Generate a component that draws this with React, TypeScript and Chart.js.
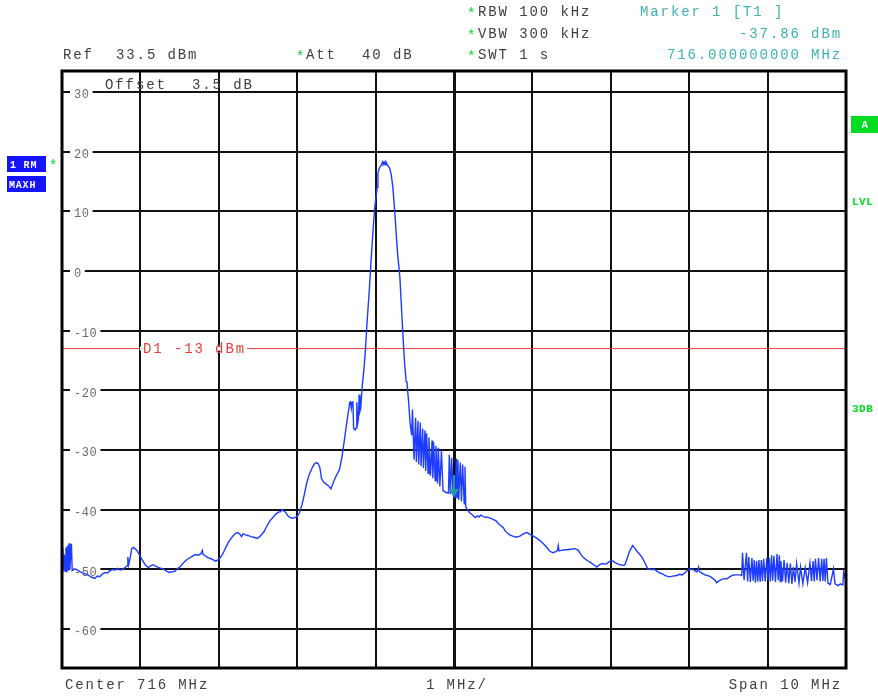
import React, { useEffect, useRef } from "react";
import { Chart, registerables } from "chart.js";
Chart.register(...registerables);

// ---- data ----
const traceMHz = [
  711.00, 711.01, 711.02, 711.03, 711.04, 711.05, 711.06, 711.07, 711.08, 711.09, 711.10, 711.12, 711.13, 711.16,
  711.20, 711.25, 711.29, 711.34, 711.38, 711.42, 711.45, 711.48, 711.52, 711.55, 711.58, 711.61, 711.65, 711.68,
  711.71, 711.74, 711.77, 711.80, 711.83, 711.84, 711.85, 711.87, 711.89, 711.91, 711.93, 711.96, 711.99,
  712.02, 712.06, 712.10, 712.13, 712.16, 712.19, 712.22, 712.26, 712.29, 712.34, 712.37, 712.40, 712.44, 712.47,
  712.51, 712.54, 712.58, 712.61, 712.65, 712.70, 712.74, 712.77, 712.79, 712.80, 712.83, 712.86, 712.90, 712.93,
  712.96, 712.99, 713.02, 713.05, 713.09, 713.12, 713.15, 713.18, 713.22, 713.24, 713.27, 713.29, 713.31, 713.34,
  713.37, 713.41, 713.45, 713.49, 713.52, 713.55, 713.58, 713.61, 713.65, 713.69, 713.72, 713.76, 713.79, 713.81,
  713.83, 713.85, 713.88, 713.91, 713.94, 713.97, 714.00, 714.03, 714.06, 714.09, 714.12, 714.15, 714.19, 714.22,
  714.25, 714.27, 714.29, 714.31, 714.34, 714.37, 714.40, 714.43, 714.45, 714.48, 714.51, 714.54, 714.57, 714.60,
  714.63, 714.65, 714.67, 714.68, 714.69, 714.70, 714.71, 714.72, 714.74, 714.75, 714.76, 714.77, 714.78, 714.79,
  714.80, 714.81, 714.83, 714.85, 714.87, 714.89, 714.92, 714.94, 714.97, 714.99, 715.02, 715.03, 715.05, 715.07,
  715.08, 715.09, 715.10, 715.11, 715.12, 715.13, 715.14, 715.15, 715.16, 715.18, 715.20, 715.22, 715.24, 715.26,
  715.28, 715.31, 715.33, 715.35, 715.37, 715.39, 715.40, 715.42, 715.44, 715.46, 715.47, 715.49, 715.51, 715.52,
  715.54, 715.55, 715.57, 715.58, 715.60, 715.61, 715.63, 715.64, 715.65, 715.67, 715.68, 715.70, 715.72, 715.73,
  715.74, 715.76, 715.77, 715.79, 715.80, 715.82, 715.84, 715.86, 715.90, 715.93, 715.94, 715.955, 715.97, 715.99,
  716.00, 716.02, 716.03, 716.04, 716.05, 716.06, 716.08, 716.095, 716.11, 716.13, 716.14, 716.15, 716.17, 716.20,
  716.24, 716.27, 716.30, 716.32, 716.34, 716.36, 716.40, 716.42, 716.46, 716.50, 716.54, 716.56, 716.60, 716.63,
  716.65, 716.68, 716.71, 716.75, 716.79, 716.84, 716.89, 716.93, 716.97, 717.01, 717.06, 717.10, 717.15, 717.19,
  717.22, 717.26, 717.30, 717.32, 717.33, 717.34, 717.37, 717.40, 717.44, 717.49, 717.54, 717.58, 717.62, 717.65,
  717.70, 717.74, 717.79, 717.82, 717.86, 717.89, 717.93, 717.95, 718.00, 718.03, 718.05, 718.09, 718.12, 718.16,
  718.18, 718.22, 718.24, 718.28, 718.31, 718.33, 718.37, 718.40, 718.44, 718.47, 718.51, 718.56, 718.60, 718.63,
  718.67, 718.69, 718.73, 718.76, 718.79, 718.84, 718.88, 718.91, 718.95, 718.97, 719.01, 719.05, 719.07, 719.10,
  719.12, 719.13, 719.16, 719.20, 719.23, 719.27, 719.29, 719.33, 719.35, 719.38, 719.42, 719.46, 719.48, 719.52,
  719.55, 719.58, 719.61, 719.65, 719.67,
  719.68, 719.70, 719.73, 719.745, 719.76, 719.78, 719.80, 719.815, 719.83, 719.845, 719.86, 719.875, 719.89, 719.905,
  719.92, 719.935, 719.95, 719.97, 719.99, 720.005, 720.02, 720.035, 720.05, 720.065, 720.08, 720.10, 720.12, 720.135,
  720.15, 720.16, 720.17, 720.19, 720.21, 720.23, 720.25, 720.27, 720.29, 720.31, 720.33, 720.35, 720.37, 720.40,
  720.42, 720.45, 720.48, 720.51, 720.54, 720.56, 720.58, 720.595, 720.61, 720.63, 720.65, 720.67, 720.69, 720.705,
  720.72, 720.735, 720.75, 720.77, 720.80, 720.84, 720.86, 720.90, 720.93, 720.96, 720.97, 721.00,
];
const traceDbm = [
  -50.3, -46.5, -50.2, -47.5, -50.3, -46.3, -50.5, -46.0, -50.2, -45.6, -50.0, -45.7, -50.2, -49.9,
  -50.1, -50.5, -50.7, -51.0, -51.3, -51.5, -51.1, -51.2, -50.7, -50.5, -50.6, -50.2, -50.0, -50.1,
  -49.8, -50.1, -50.0, -49.7, -49.4, -47.9, -49.2, -48.0, -46.5, -46.3, -46.5, -46.9, -47.6,
  -48.3, -49.2, -49.7, -49.4, -49.2, -49.4, -49.6, -49.8, -49.9, -50.3, -50.5, -50.4, -50.3, -49.9,
  -49.5, -49.0, -48.5, -48.2, -47.9, -47.5, -47.6, -47.4, -46.8, -47.5, -47.7, -48.0, -48.2, -48.4,
  -48.6, -48.4, -48.0, -47.4, -46.3, -45.5, -44.9, -44.4, -43.9, -43.8, -44.1, -44.5, -44.0, -44.2,
  -44.3, -44.5, -44.6, -44.8, -44.5, -44.1, -43.6, -42.8, -41.9, -41.3, -40.8, -40.4, -40.3, -40.0,
  -40.2, -40.4, -41.0, -41.3, -41.4, -41.3, -41.1, -40.5, -39.2, -37.5, -35.6, -34.2, -33.0, -32.3,
  -32.1, -32.3, -33.0, -34.8, -35.4, -35.7, -36.0, -36.5, -35.8, -34.8, -34.0, -33.2, -31.2, -28.5,
  -25.6, -23.8, -22.0, -21.9, -23.0, -22.0, -21.8, -26.4, -26.6, -26.3, -22.0, -25.6, -25.0, -20.7,
  -23.5, -23.0, -19.2, -16.7, -13.3, -8.8, -3.2, 1.3, 7.3, 10.7, 14.0, 16.4, 17.3, 17.7,
  18.0, 18.3, 17.9, 18.2, 17.8, 18.3, 18.1, 17.7, 17.6, 17.2, 16.1, 14.0, 10.7, 6.8,
  3.0, -1.1, -6.1, -11.1, -15.5, -18.5, -18.7, -21.7, -25.5, -27.5, -23.2, -31.6, -24.6, -32.0,
  -25.1, -32.4, -25.4, -32.7, -26.4, -33.0, -26.7, -33.5, -27.2, -33.9, -27.9, -34.3, -28.4, -34.7,
  -28.7, -35.1, -29.3, -35.6, -29.6, -36.1, -30.1, -36.8, -37.1, -37.2, -30.8, -37.4, -31.3, -37.6,
  -37.86, -37.9, -31.4, -38.0, -31.6, -38.3, -32.1, -38.6, -32.4, -39.0, -32.8, -39.5, -40.0, -40.5,
  -40.9, -41.3, -41.0, -41.2, -40.9, -41.0, -41.3, -41.2, -41.4, -41.6, -41.9, -42.2, -42.7, -43.0,
  -43.5, -43.9, -44.2, -44.4, -44.6, -44.4, -44.0, -43.8, -44.1, -44.4, -44.8, -45.2, -45.8, -46.4,
  -46.9, -47.2, -47.0, -46.8, -46.0, -46.9, -46.8, -46.7, -46.7, -46.6, -46.5, -46.7, -47.5, -48.0,
  -48.5, -48.8, -49.3, -49.6, -49.2, -49.0, -49.1, -49.0, -48.5, -48.6, -48.8, -49.1, -49.2, -49.3,
  -49.2, -47.7, -46.9, -46.0, -46.5, -46.9, -47.5, -48.0, -49.0, -49.9, -50.0, -50.0, -50.4, -50.6,
  -50.8, -51.0, -51.2, -51.2, -51.1, -51.0, -50.8, -50.9, -50.5, -50.2, -49.9, -50.0, -50.2, -50.4,
  -49.6, -50.3, -50.6, -50.9, -51.0, -51.2, -51.4, -51.8, -52.2, -51.9, -51.6, -51.5, -51.6, -51.2,
  -51.0, -50.9, -50.9, -50.9, -51.0,
  -47.2, -51.8, -47.2, -52.0, -47.9, -52.1, -48.1, -51.9, -48.4, -52.2, -48.6, -52.0, -48.4, -52.1,
  -48.4, -51.9, -48.2, -52.0, -48.1, -51.8, -48.1, -52.0, -47.6, -51.9, -47.7, -52.1, -47.4, -51.8,
  -47.6, -52.0, -48.6, -52.0, -48.4, -52.2, -48.9, -52.3, -49.0, -52.4, -49.6, -52.1, -49.0, -52.3,
  -49.6, -52.4, -49.7, -52.2, -48.9, -51.9, -48.6, -52.0, -48.2, -51.8, -48.1, -52.0, -48.2, -51.9,
  -48.2, -52.0, -48.1, -52.3, -52.5, -49.9, -52.4, -52.7, -52.4, -52.6, -50.4, -51.9,
];

const xGridMHz = [711, 712, 713, 714, 715, 716, 717, 718, 719, 720, 721];
const yTickValues = [30, 20, 10, 0, -10, -20, -30, -40, -50, -60];
const yTickLabels = ["30", "20", "10", "0", "-10", "-20", "-30", "-40", "-50", "-60"];
const refLevel = 33.5;
const bottomLevel = -66.5;
const startMHz = 711;
const stopMHz = 721;
const centerMHz = 716;
const limitLevel = -13;
const limitLabel = "D1 -13 dBm";
const markerMHz = 716;
const markerDbm = -37.86;
const settingLabels = ["RBW 100 kHz", "VBW 300 kHz", "SWT 1 s"];
const markerLabels = ["Marker 1 [T1 ]", "-37.86 dBm", "716.000000000 MHz"];
const refLabel = ["Ref", "33.5 dBm"];
const attLabel = ["Att", "40 dB"];
const offsetLabel = ["Offset", "3.5 dB"];
const footerLabels = ["Center 716 MHz", "1 MHz/", "Span 10 MHz"];
const traceLabels = ["1 RM", "MAXH"];
const sideLabels = ["A", "LVL", "3DB"];

const FONT = '14px "Liberation Mono", "DejaVu Sans Mono", monospace';
const TEXT = "#404040";
const TEAL = "#3fb1b1";
const GREEN = "#00dd22";
const RED = "#e63c3c";

function setSpacing(ctx: any, px: number) {
  try { ctx.letterSpacing = px + "px"; } catch (e) {}
}

const overlayPlugin = {
  id: "overlay",
  beforeDatasetsDraw(chart: any) {
    const { ctx, chartArea, scales } = chart;
    const y = scales.y;
    ctx.save();
    // y tick labels with white background
    ctx.font = '12px "Liberation Mono", monospace';
    setSpacing(ctx, 0.6);
    ctx.textBaseline = "middle";
    yTickValues.forEach((v, i) => {
      const py = y.getPixelForValue(v);
      const label = yTickLabels[i];
      const w = ctx.measureText(label).width;
      ctx.fillStyle = "#fff";
      ctx.fillRect(chartArea.left + 8, py - 2, w + 7, 4);
      ctx.fillStyle = "#6a6a6a";
      ctx.fillText(label, chartArea.left + 12, py + 3);
    });
    // offset text
    ctx.font = FONT;
    setSpacing(ctx, 1.9);
    ctx.fillStyle = TEXT;
    ctx.fillText(offsetLabel[0], 105, 85);
    ctx.fillText(offsetLabel[1], 192, 85);
    ctx.restore();
  },
  afterDatasetsDraw(chart: any) {
    const { ctx, chartArea, scales } = chart;
    const x = scales.x;
    const y = scales.y;
    ctx.save();
    // limit line label
    const ly = y.getPixelForValue(limitLevel);
    ctx.font = FONT;
    setSpacing(ctx, 1.9);
    const lw = ctx.measureText(limitLabel).width;
    ctx.fillStyle = "#fff";
    ctx.fillRect(140, ly - 2, lw + 4, 4);
    ctx.fillStyle = RED;
    ctx.textBaseline = "middle";
    ctx.fillText(limitLabel, 143, ly + 1);
    // marker
    const mx = x.getPixelForValue(markerMHz);
    const my = y.getPixelForValue(markerDbm);
    ctx.fillStyle = "#1c9c9c";
    ctx.strokeStyle = "#1c9c9c";
    ctx.beginPath();
    ctx.moveTo(mx, my);
    ctx.lineTo(mx - 5, my - 8);
    ctx.lineTo(mx + 5, my - 8);
    ctx.closePath();
    ctx.fill();
    ctx.lineWidth = 2;
    ctx.beginPath();
    ctx.moveTo(mx, my - 8);
    ctx.lineTo(mx, my - 22);
    ctx.stroke();
    // frame
    ctx.strokeStyle = "#000";
    ctx.lineWidth = 3;
    ctx.strokeRect(chartArea.left, chartArea.top, chartArea.right - chartArea.left, chartArea.bottom - chartArea.top);
    ctx.restore();
  },
  afterDraw(chart: any) {
    const { ctx } = chart;
    ctx.save();
    ctx.font = FONT;
    setSpacing(ctx, 1.9);
    ctx.textBaseline = "middle";
    const rows = [12, 34, 55];
    // settings
    settingLabels.forEach((t, i) => {
      ctx.fillStyle = GREEN;
      ctx.fillText("*", 467, rows[i] + 2);
      ctx.fillStyle = TEXT;
      ctx.fillText(t, 478, rows[i]);
    });
    // marker info
    ctx.fillStyle = TEAL;
    ctx.textAlign = "left";
    ctx.fillText(markerLabels[0], 640, rows[0]);
    ctx.textAlign = "right";
    ctx.fillText(markerLabels[1], 842, rows[1]);
    ctx.fillText(markerLabels[2], 842, rows[2]);
    ctx.textAlign = "left";
    // ref / att
    ctx.fillStyle = TEXT;
    ctx.fillText(refLabel[0], 63, rows[2]);
    ctx.fillText(refLabel[1], 116, rows[2]);
    ctx.fillStyle = GREEN;
    ctx.fillText("*", 296, rows[2] + 2);
    ctx.fillStyle = TEXT;
    ctx.fillText(attLabel[0], 306, rows[2]);
    ctx.fillText(attLabel[1], 362, rows[2]);
    // footer
    ctx.fillText(footerLabels[0], 65, 685);
    ctx.fillText(footerLabels[1], 426, 685);
    ctx.textAlign = "right";
    ctx.fillText(footerLabels[2], 842, 685);
    ctx.textAlign = "left";
    // trace boxes on left
    ctx.fillStyle = "#1414ff";
    ctx.fillRect(7, 156, 39, 16);
    ctx.fillRect(7, 176, 39, 16);
    ctx.font = 'bold 10px "Liberation Mono", monospace';
    setSpacing(ctx, 0.8);
    ctx.fillStyle = "#fff";
    ctx.fillText(traceLabels[0], 10, 165);
    ctx.fillText(traceLabels[1], 9, 185);
    ctx.font = FONT;
    setSpacing(ctx, 0);
    ctx.fillStyle = GREEN;
    ctx.fillText("*", 49, 166);
    // right side
    ctx.fillStyle = GREEN;
    ctx.fillRect(851, 116, 27, 17);
    ctx.font = 'bold 11px "Liberation Mono", monospace';
    setSpacing(ctx, 0.5);
    ctx.fillStyle = "#fff";
    ctx.textAlign = "center";
    ctx.fillText(sideLabels[0], 865, 125);
    ctx.textAlign = "left";
    ctx.fillStyle = GREEN;
    ctx.fillText(sideLabels[1], 852, 202);
    ctx.fillText(sideLabels[2], 852, 409);
    ctx.restore();
  },
};

export default function App() {
  const ref = useRef<HTMLCanvasElement | null>(null);
  useEffect(() => {
    document.body.style.margin = "0";
    const canvas = ref.current;
    if (!canvas) return;
    const chart = new Chart(canvas, {
      type: "line",
      data: {
        datasets: [
          {
            data: traceMHz.map((f, i) => ({ x: f, y: traceDbm[i] })),
            borderColor: "#1e3cff",
            borderWidth: 1.4,
            pointRadius: 0,
            tension: 0,
            fill: false,
          },
          {
            data: [
              { x: startMHz, y: limitLevel },
              { x: stopMHz, y: limitLevel },
            ],
            borderColor: RED,
            borderWidth: 1,
            pointRadius: 0,
            fill: false,
          },
        ],
      },
      options: {
        animation: false,
        responsive: false,
        devicePixelRatio: 1,
        events: [],
        layout: { padding: { left: 62, top: 71, right: 32, bottom: 29 } },
        plugins: { legend: { display: false }, tooltip: { enabled: false } },
        scales: {
          x: {
            type: "linear",
            min: startMHz,
            max: stopMHz,
            afterBuildTicks: (s: any) => {
              s.ticks = xGridMHz.map((v) => ({ value: v }));
            },
            ticks: { display: false },
            grid: {
              color: "#111",
              lineWidth: (c: any) => (c.tick && c.tick.value === centerMHz ? 3 : 2),
              drawTicks: false,
            },
            border: { display: false },
          },
          y: {
            type: "linear",
            min: bottomLevel,
            max: refLevel,
            afterBuildTicks: (s: any) => {
              s.ticks = yTickValues.map((v) => ({ value: v }));
            },
            ticks: { display: false },
            grid: { color: "#111", lineWidth: 2, drawTicks: false },
            border: { display: false },
          },
        },
      },
      plugins: [overlayPlugin],
    } as any);
    return () => chart.destroy();
  }, []);
  return (
    <div style={{ position: "absolute", left: 0, top: 0, width: 878, height: 697, background: "#fff" }}>
      <canvas ref={ref} width={878} height={697} style={{ width: 878, height: 697, display: "block" }} />
    </div>
  );
}
